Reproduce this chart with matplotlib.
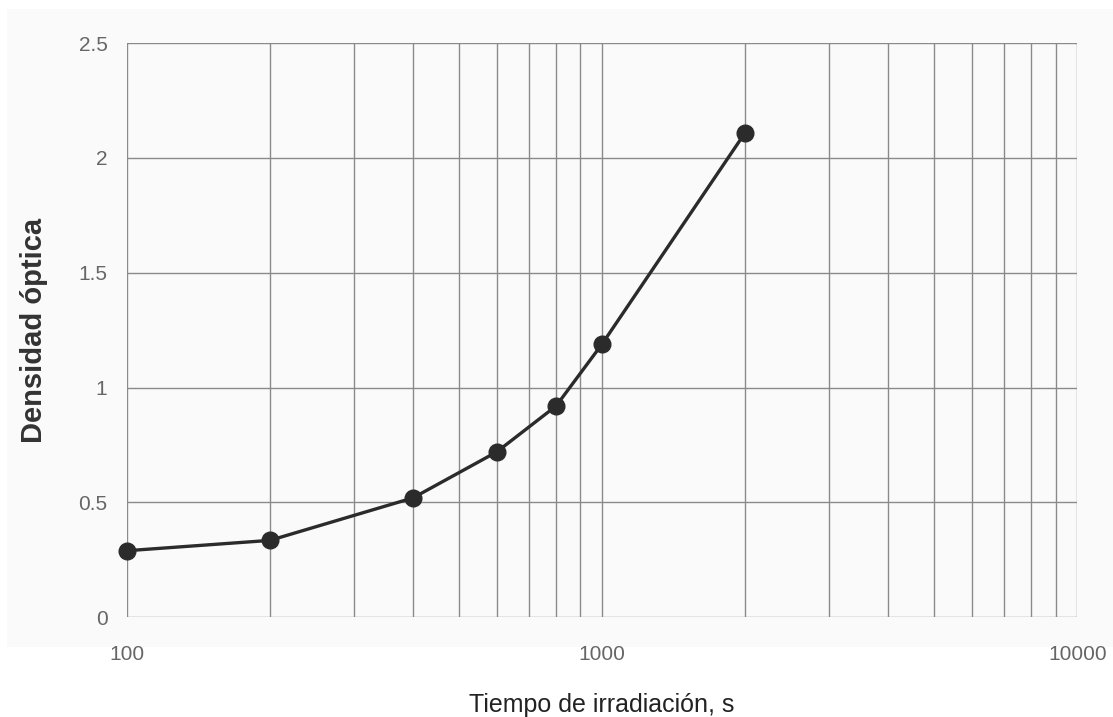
import matplotlib
matplotlib.use("Agg")
from matplotlib import pyplot as plt
from matplotlib.ticker import FixedLocator, NullFormatter

tiempo_s = [100, 200, 400, 600, 800, 1000, 2000]
densidad_optica = [0.29, 0.335, 0.52, 0.72, 0.92, 1.19, 2.11]
y_ticks = [0, 0.5, 1, 1.5, 2, 2.5]
y_tick_labels = ['0', '0.5', '1', '1.5', '2', '2.5']
x_ticks = [100, 1000, 10000]
x_tick_labels = ['100', '1000', '10000']

plt.rcParams['font.family'] = ['Liberation Sans', 'DejaVu Sans']

fig = plt.figure(figsize=(11.13, 7.17), dpi=100)
fig.patch.set_facecolor('#ffffff')
# fondo gris claro del escaneo
fig.patches.append(plt.Rectangle((0.006, 0.098), 0.994, 0.89, transform=fig.transFigure,
                                 facecolor='#fafafa', edgecolor='none', zorder=-10))
ax = fig.add_axes([0.114, 0.139, 0.854, 0.801])
ax.set_facecolor('#fafafa')

ax.set_xscale('log')
ax.set_xlim(100, 10000)
ax.set_ylim(0, 2.5)

ax.xaxis.set_major_locator(FixedLocator(x_ticks))
ax.set_xticklabels(x_tick_labels)
minor = [m * d for d in (100, 1000) for m in range(2, 10)]
ax.xaxis.set_minor_locator(FixedLocator(minor))
ax.xaxis.set_minor_formatter(NullFormatter())
ax.set_yticks(y_ticks)
ax.set_yticklabels(y_tick_labels)

ax.grid(which='both', axis='x', color='#8a8a8a', linewidth=1.0)
ax.grid(which='major', axis='y', color='#8a8a8a', linewidth=1.0)
ax.set_axisbelow(True)

for s in ax.spines.values():
    s.set_visible(False)

ax.tick_params(axis='both', which='both', length=0, colors='#666666', labelsize=15)
ax.tick_params(axis='x', pad=20)
ax.tick_params(axis='y', pad=14)

ax.plot(tiempo_s, densidad_optica, color='#2b2b2b', linewidth=2.4,
        marker='o', markersize=12, markerfacecolor='#2b2b2b', markeredgecolor='#2b2b2b',
        clip_on=False, zorder=3)

ax.set_xlabel('Tiempo de irradiación, s', fontsize=18, color='#222222', labelpad=21)
ax.set_ylabel('Densidad óptica', fontsize=21, color='#333333', fontweight='bold', labelpad=22)

fig.savefig('out.png', dpi=100)
